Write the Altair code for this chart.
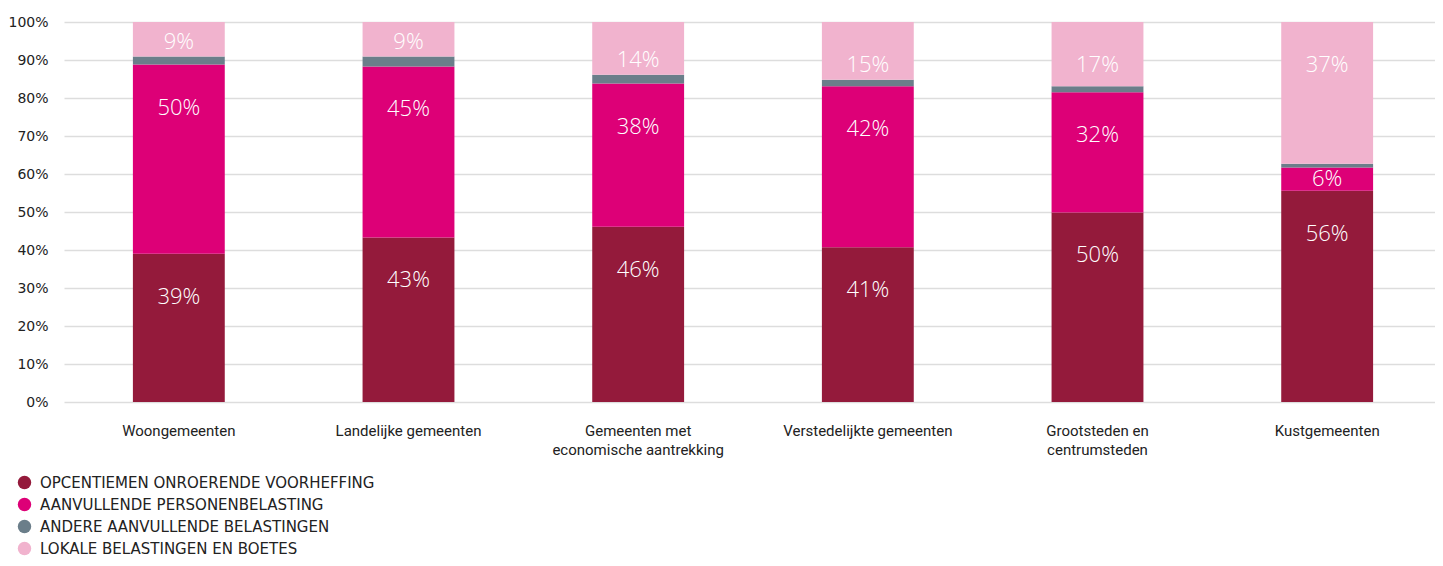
import altair as alt
import pandas as pd

categories = ["Woongemeenten", "Landelijke gemeenten", "Gemeenten met|economische aantrekking",
              "Verstedelijkte gemeenten", "Grootsteden en|centrumsteden", "Kustgemeenten"]
series = ["OPCENTIEMEN ONROERENDE VOORHEFFING", "AANVULLENDE PERSONENBELASTING",
          "ANDERE AANVULLENDE BELASTINGEN", "LOKALE BELASTINGEN EN BOETES"]
colors = ["#941A3B", "#DD0077", "#6B7E8A", "#F1B3CE"]

opcentiemen = [39.0, 43.3, 46.1, 40.7, 49.9, 55.6]
aanvullende = [49.8, 45.0, 37.7, 42.4, 31.6, 6.1]
andere = [2.1, 2.6, 2.3, 1.7, 1.6, 1.0]
lokale = [9.1, 9.1, 13.9, 15.2, 16.9, 37.3]
show_label = [True, True, False, True]
y_ticks = list(range(0, 101, 10))

rows = []
for si, (name, vals) in enumerate(zip(series, [opcentiemen, aanvullende, andere, lokale])):
    for ci, cat in enumerate(categories):
        rows.append({"cat": cat, "series": name, "order": si, "value": vals[ci],
                     "show": show_label[si]})
df = pd.DataFrame(rows)

x = alt.X("cat:N", sort=categories, title=None,
          scale=alt.Scale(paddingInner=0.6, paddingOuter=0.3, range=[0, 1378]),
          axis=alt.Axis(labelExpr="split(datum.label, '|')", labelAngle=0,
                        ticks=False, domain=False, labelPadding=21,
                        labelFont="Roboto", labelFontSize=15, labelColor="#222",
                        labelLineHeight=19, labelBaseline="top"))

yscale = alt.Scale(domain=[0, 100], nice=False)
yaxis = alt.Axis(values=y_ticks, labelExpr="datum.value + '%'",
                 ticks=False, domain=False, labelPadding=16, grid=True,
                 gridColor="#dddddd", gridWidth=1.6, labelOverlap=False,
                 labelFont="DejaVu Sans", labelFontSize=14, labelColor="#222")

base = alt.Chart(df).transform_stack(
    stack="value", groupby=["cat"], as_=["y0", "y1"],
    sort=[alt.SortField("order", order="ascending")]
)

bars = base.mark_bar().encode(
    x=x,
    y=alt.Y("y0:Q", title=None, scale=yscale, axis=yaxis),
    y2="y1:Q",
    color=alt.Color("series:N", title=None,
                    scale=alt.Scale(domain=series, range=colors),
                    legend=alt.Legend(orient="none", legendX=-47, legendY=453,
                                      symbolType="circle", symbolSize=180,
                                      symbolStrokeWidth=0, labelFont="DejaVu Sans",
                                      labelFontSize=15, labelColor="#222",
                                      labelOffset=8, rowPadding=6, labelLimit=600)),
)

labels = base.transform_filter("datum.show").transform_calculate(
    ly="max(datum.y1 - 11.3, min((datum.y0 + datum.y1) / 2, datum.y0 + 3.8))",
    txt="round(datum.value) + '%'"
).mark_text(color="white", font="Open Sans", fontSize=22, fontWeight=300,
            baseline="middle").encode(
    x=alt.X("cat:N", sort=categories),
    y=alt.Y("ly:Q", title=None, scale=yscale, axis=yaxis),
    text="txt:N",
)

chart = alt.layer(bars, labels).properties(
    width=1371, height=380,
    autosize=alt.AutoSizeParams(type="none"),
    padding={"left": 56, "top": 14, "right": 0, "bottom": 156},
).configure_view(stroke=None)

chart.save("out.html", embed_options={"renderer": "svg", "actions": False})
